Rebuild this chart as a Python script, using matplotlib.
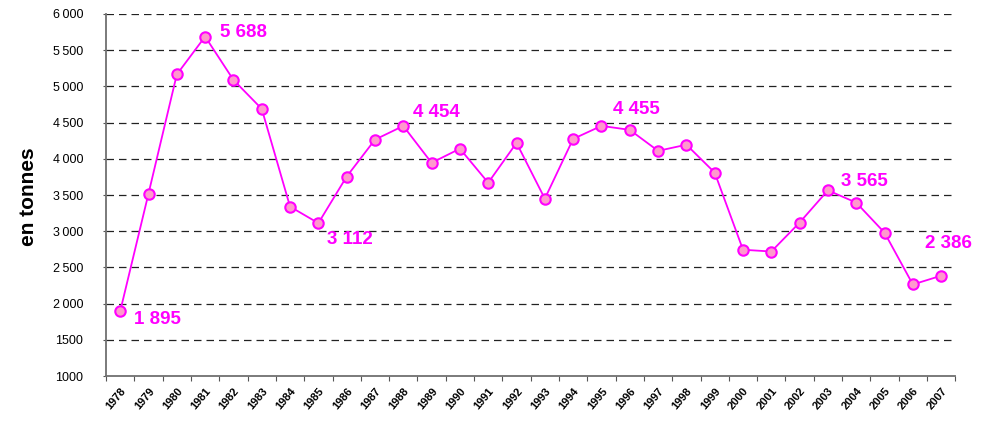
import matplotlib
matplotlib.use("Agg")
import matplotlib.pyplot as plt

years = [str(y) for y in range(1978, 2008)]
values = [1895, 3520, 5165, 5688, 5090, 4690, 3340, 3112, 3755, 4265,
          4454, 3945, 4140, 3670, 4220, 3450, 4275, 4455, 4400, 4110,
          4195, 3810, 2745, 2720, 3120, 3565, 3395, 2980, 2265, 2386]
yticks = [1000, 1500, 2000, 2500, 3000, 3500, 4000, 4500, 5000, 5500, 6000]
ytick_labels = ["1000", "1500", "2\u2009000", "2\u2009500", "3\u2009000", "3\u2009500",
                "4\u2009000", "4\u2009500", "5\u2009000", "5\u2009500", "6\u2009000"]
annotated = {0: "1 895", 3: "5 688", 7: "3 112", 10: "4 454",
             17: "4 455", 25: "3 565", 29: "2 386"}
offsets = {0: (14, -8), 3: (15, 4), 7: (9, -16), 10: (10, 13),
           17: (12, 16), 25: (13, 9), 29: (-16, 32)}

plt.rcParams['font.family'] = ['Liberation Sans', 'DejaVu Sans']

fig = plt.figure(figsize=(9.91, 4.24), dpi=100)
ax = fig.add_axes([0.107, 0.113, 0.857, 0.854])

x = list(range(len(years)))
ax.plot(x, values, color='#FF00FF', lw=1.3, marker='o', markersize=7.5,
        markerfacecolor='#FF99CC', markeredgecolor='#FF00FF', markeredgewidth=1.5,
        zorder=3, clip_on=False)

for i, txt in annotated.items():
    ax.annotate(txt, (x[i], values[i]), xytext=offsets[i], textcoords='offset pixels',
                ha='left', va='center', color='#FF00FF', fontsize=13.5,
                fontweight='bold', zorder=4)

ax.set_xlim(-0.5, len(years) - 0.5)
ax.set_ylim(1000, 6000)
ax.set_yticks(yticks)
ax.set_yticklabels(ytick_labels, fontsize=9)
for y in yticks[1:]:
    ax.axhline(y, color='#222222', lw=0.9, dashes=(6, 4), zorder=1)

ax.set_xticks([i - 0.5 for i in range(len(years) + 1)])
ax.set_xticklabels([])
ax.set_xticks(x, minor=True)
ax.set_xticklabels(years, minor=True, rotation=50, ha='right',
                   rotation_mode='anchor', fontsize=8, fontweight='bold')
ax.tick_params(axis='x', which='minor', length=0, pad=7)
ax.tick_params(axis='x', which='major', length=3.5, color='#555555', direction='out')
ax.tick_params(axis='y', length=2.5, color='#555555', pad=14)

for s in ['top', 'right']:
    ax.spines[s].set_visible(False)
for s in ['left', 'bottom']:
    ax.spines[s].set_color('#707070')
    ax.spines[s].set_linewidth(1.3)

fig.text(0.029, 0.535, 'en tonnes', rotation=90, ha='center', va='center',
         fontsize=15, fontweight='bold')

fig.savefig('out.png', dpi=100)
